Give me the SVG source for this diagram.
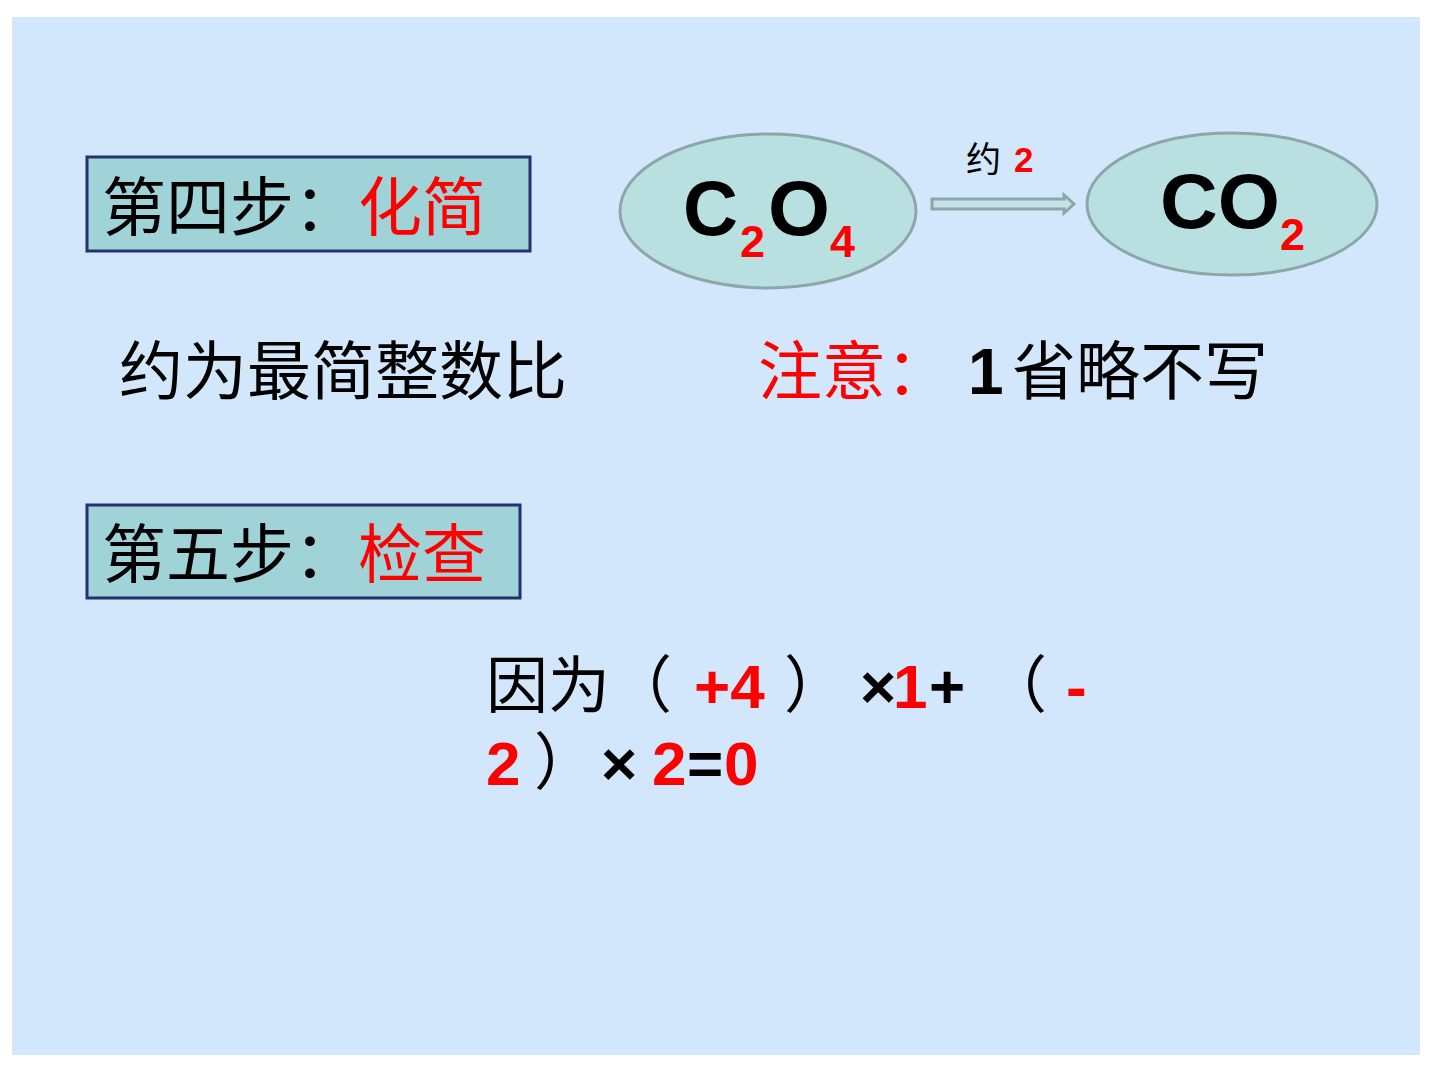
<svg xmlns="http://www.w3.org/2000/svg" width="1440" height="1080" viewBox="0 0 1440 1080">
<style>
.cn{font-family:"Liberation Serif","Noto Sans CJK SC",serif;}
.en{font-family:"Liberation Sans","Noto Sans CJK SC",sans-serif;font-weight:bold;}
.k{fill:#000;}
.r{fill:#ff0000;}
.box{fill:#9fd3d8;stroke:#25306e;stroke-width:3;}
.ell{fill:#b9e0e1;stroke:#8ea6a7;stroke-width:3;}
</style>
<rect x="0" y="0" width="1440" height="1080" fill="#ffffff"/>
<rect x="12" y="17" width="1408" height="1038" fill="#d2e7fb"/>
<g id="step4">
<rect class="box" x="87" y="157" width="443" height="94"/>
<text class="cn" x="102" y="230" font-size="64"><tspan class="k">第四步：</tspan><tspan class="r">化简</tspan></text>
</g>
<g id="c2o4">
<ellipse class="ell" cx="768" cy="211" rx="148" ry="77"/>
<text class="en k" x="683" y="235" font-size="78" textLength="55" lengthAdjust="spacingAndGlyphs">C</text>
<text class="en r" x="740" y="257" font-size="44" textLength="25" lengthAdjust="spacingAndGlyphs">2</text>
<text class="en k" x="768" y="235" font-size="78" textLength="62" lengthAdjust="spacingAndGlyphs">O</text>
<text class="en r" x="830" y="257" font-size="44" textLength="25" lengthAdjust="spacingAndGlyphs">4</text>
</g>
<g id="co2">
<ellipse class="ell" cx="1232" cy="204" rx="145" ry="71"/>
<text class="en k" x="1160" y="228" font-size="78" textLength="120" lengthAdjust="spacingAndGlyphs">CO</text>
<text class="en r" x="1280" y="250" font-size="44" textLength="25" lengthAdjust="spacingAndGlyphs">2</text>
</g>
<g id="connectors">
<path d="M932,199 H1064 V195 L1074,204 L1064,213 V209 H932 Z" fill="#c5e3e6" stroke="#8ea6a7" stroke-width="3"/>
<text x="966" y="172" font-size="35"><tspan class="cn k">约</tspan><tspan class="en r" x="1014">2</tspan></text>
</g>
<g id="note1">
<text class="cn k" x="119" y="394" font-size="64">约为最简整数比</text>
</g>
<g id="note2">
<text x="758" y="394" font-size="64"><tspan class="cn r">注意：</tspan><tspan class="en k" x="968">1</tspan><tspan class="cn k" x="1012">省略不写</tspan></text>
</g>
<g id="step5">
<rect class="box" x="87" y="505" width="433" height="93"/>
<text class="cn" x="102" y="577" font-size="64"><tspan class="k">第五步：</tspan><tspan class="r">检查</tspan></text>
</g>
<g id="check">
<text font-size="62" y="708"><tspan class="cn k" x="486">因为（</tspan><tspan class="en r" x="694">+4</tspan><tspan class="cn k" x="784">）</tspan><tspan class="en k" x="860">×</tspan><tspan class="en r" x="893">1</tspan><tspan class="en k" x="929">+</tspan><tspan class="cn k" x="985">（</tspan><tspan class="en r" x="1066">-</tspan></text>
<text font-size="62" y="785"><tspan class="en r" x="486">2</tspan><tspan class="cn k" x="534">）</tspan><tspan class="en k" x="601">×</tspan><tspan class="en r" x="652">2</tspan><tspan class="en k" x="687">=</tspan><tspan class="en r" x="724">0</tspan></text>
</g>
</svg>
